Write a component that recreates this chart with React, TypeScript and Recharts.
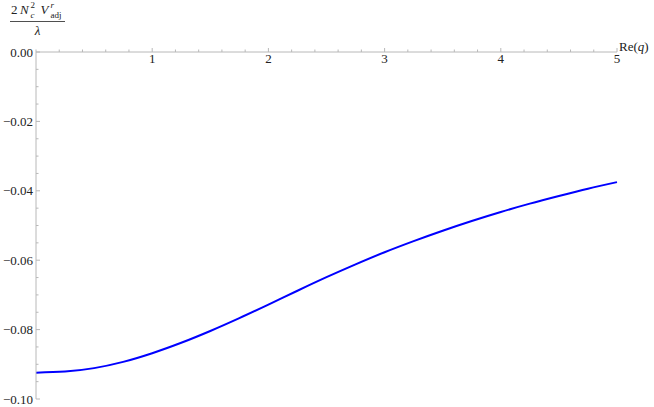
import React from "react";
import { LineChart, Line, XAxis, YAxis } from "recharts";

const qValues = [0, 0.25, 0.5, 0.75, 1, 1.25, 1.5, 1.75, 2, 2.25, 2.5, 2.75, 3, 3.25, 3.5, 3.75, 4, 4.25, 4.5, 4.75, 5];
const potentialValues = [
  -0.0924, -0.0921, -0.0911, -0.0893, -0.0868, -0.0838, -0.0804, -0.0767, -0.0728, -0.0688,
  -0.0649, -0.0612, -0.0577, -0.0545, -0.0515, -0.0487, -0.0461, -0.0437, -0.0415, -0.0394, -0.0375,
];
const xTicks = [0, 0.2, 0.4, 0.6, 0.8, 1, 1.2, 1.4, 1.6, 1.8, 2, 2.2, 2.4, 2.6, 2.8, 3, 3.2, 3.4, 3.6, 3.8, 4, 4.2, 4.4, 4.6, 4.8, 5];
const xMajorLabels = [1, 2, 3, 4, 5];
const yTicks = [
  0, -0.005, -0.01, -0.015, -0.02, -0.025, -0.03, -0.035, -0.04, -0.045, -0.05,
  -0.055, -0.06, -0.065, -0.07, -0.075, -0.08, -0.085, -0.09, -0.095, -0.1,
];
const yMajorLabels = ["0.00", "\u22120.02", "\u22120.04", "\u22120.06", "\u22120.08", "\u22120.10"];

const data = qValues.map((q, i) => ({ q, v: potentialValues[i] }));

const AXIS_COLOR = "#b8b8b8";
const TEXT_COLOR = "#222222";
const FONT = "'Liberation Serif', 'DejaVu Serif', serif";

function XTick(props: any) {
  const { x, y, payload } = props;
  const v = payload.value as number;
  const idx = xMajorLabels.findIndex((m) => Math.abs(m - v) < 1e-6);
  const major = idx >= 0;
  return (
    <g>
      <line x1={x} y1={y} x2={x} y2={y - (major ? 4 : 2.5)} stroke={AXIS_COLOR} strokeWidth={1} />
      {major && (
        <text x={x} y={y + 11} textAnchor="middle" fontFamily={FONT} fontSize={13} fill={TEXT_COLOR}>
          {String(xMajorLabels[idx])}
        </text>
      )}
    </g>
  );
}

function YTick(props: any) {
  const { x, y, payload } = props;
  const v = payload.value as number;
  const r = v / -0.02;
  const major = Math.abs(r - Math.round(r)) < 1e-6;
  return (
    <g>
      <line x1={x} y1={y} x2={x + (major ? 4 : 2.5)} y2={y} stroke={AXIS_COLOR} strokeWidth={1} />
      {major && (
        <text x={x - 3} y={y + 4.5} textAnchor="end" fontFamily={FONT} fontSize={13} fill={TEXT_COLOR}>
          {yMajorLabels[Math.round(r)]}
        </text>
      )}
    </g>
  );
}

export default function App() {
  return (
    <div style={{ position: "absolute", left: 0, top: 0, width: 654, height: 407, background: "#fff" }}>
      <LineChart width={654} height={407} data={data} margin={{ top: 51, right: 37, bottom: 8, left: 35 }}>
        <XAxis
          dataKey="q"
          type="number"
          domain={[0, 5]}
          ticks={xTicks}
          interval={0}
          orientation="top"
          height={1}
          tickSize={0}
          tickMargin={0}
          tickLine={false}
          axisLine={{ stroke: AXIS_COLOR, strokeWidth: 1 }}
          tick={<XTick />}
        />
        <YAxis
          type="number"
          domain={[-0.1, 0]}
          ticks={yTicks}
          interval={0}
          width={1}
          tickSize={0}
          tickMargin={0}
          tickLine={false}
          axisLine={{ stroke: AXIS_COLOR, strokeWidth: 1 }}
          tick={<YTick />}
        />
        <Line
          dataKey="v"
          type="monotone"
          stroke="#0000ff"
          strokeWidth={2}
          dot={false}
          isAnimationActive={false}
        />
      </LineChart>
      <svg
        width={654}
        height={407}
        style={{ position: "absolute", left: 0, top: 0, pointerEvents: "none" }}
      >
        <g fontFamily={FONT} fill={TEXT_COLOR}>
          <text y={13.5} fontSize={13}>
            <tspan x={11}>2</tspan>
            <tspan x={20} fontStyle="italic">N</tspan>
          </text>
          <text x={30.5} y={8} fontSize={9}>2</text>
          <text x={30.5} y={17.5} fontSize={9} fontStyle="italic">c</text>
          <text x={40.5} y={13.5} fontSize={13} fontStyle="italic">V</text>
          <text x={50.5} y={8} fontSize={9} fontStyle="italic">r</text>
          <text x={50.5} y={18} fontSize={9}>adj</text>
          <line x1={10} y1={21.5} x2={65} y2={21.5} stroke={TEXT_COLOR} strokeWidth={0.8} />
          <text x={37.5} y={35} fontSize={13} textAnchor="middle" fontStyle="italic">λ</text>
          <text x={619} y={51} fontSize={13}>
            Re(<tspan fontStyle="italic">q</tspan>)
          </text>
        </g>
      </svg>
    </div>
  );
}
